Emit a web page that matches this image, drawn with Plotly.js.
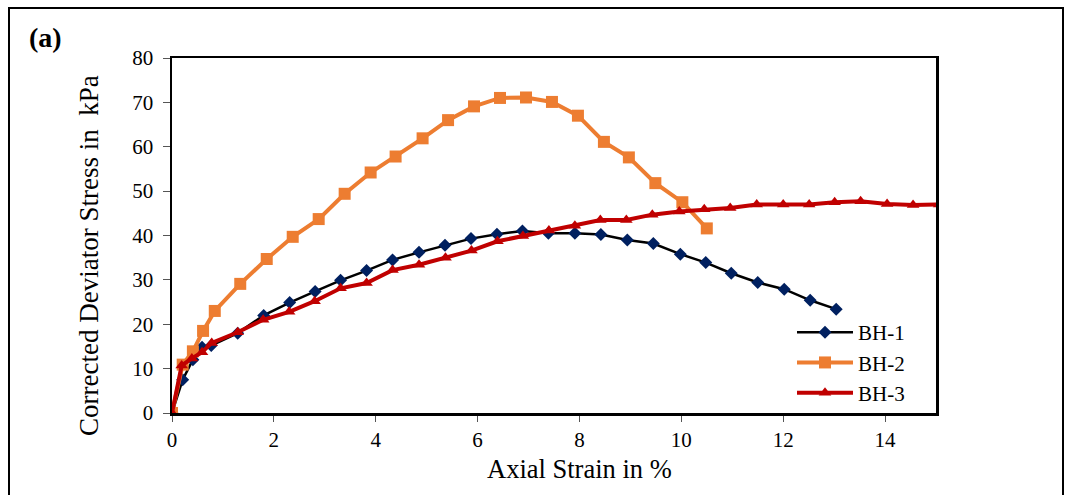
<!DOCTYPE html>
<html>
<head>
<meta charset="utf-8">
<script src="https://cdn.plot.ly/plotly-3.0.1.min.js"></script>
<style>html,body{margin:0;padding:0;background:#fff;}#chart{width:1077px;height:495px;}</style>
</head>
<body>
<div id="chart"></div>
<script>
const bh1Strain = [0, 0.21, 0.41, 0.59, 0.77, 1.29, 1.80, 2.31, 2.81, 3.31, 3.82, 4.33, 4.85, 5.36, 5.87, 6.38, 6.88, 7.39, 7.91, 8.42, 8.94, 9.45, 9.98, 10.48, 10.98, 11.5, 12.02, 12.53, 13.04];
const bh1Stress = [0, 7.5, 12.0, 14.8, 15.2, 18.0, 22.0, 24.9, 27.4, 29.9, 32.1, 34.5, 36.2, 37.8, 39.3, 40.3, 41.0, 40.5, 40.5, 40.2, 39.0, 38.2, 35.8, 33.9, 31.5, 29.4, 27.9, 25.4, 23.4];

const bh2Strain = [0, 0.21, 0.41, 0.61, 0.84, 1.34, 1.86, 2.37, 2.88, 3.39, 3.90, 4.39, 4.92, 5.42, 5.93, 6.44, 6.95, 7.46, 7.97, 8.48, 8.97, 9.49, 10.02, 10.50];
const bh2Stress = [0, 10.9, 13.9, 18.5, 23.0, 29.1, 34.7, 39.7, 43.7, 49.4, 54.2, 57.8, 61.9, 66.0, 69.1, 71.0, 71.1, 70.1, 67.0, 61.1, 57.6, 51.8, 47.5, 41.6];

const bh3Strain = [0, 0.19, 0.39, 0.59, 0.78, 1.29, 1.79, 2.30, 2.80, 3.31, 3.82, 4.33, 4.85, 5.37, 5.88, 6.39, 6.89, 7.40, 7.91, 8.41, 8.92, 9.43, 9.96, 10.45, 10.96, 11.48, 12.0, 12.51, 13.01, 13.52, 14.04, 14.55, 15.06];
const bh3Stress = [0, 10.7, 12.3, 13.7, 15.8, 18.2, 21.0, 22.8, 25.2, 28.1, 29.3, 32.2, 33.4, 35.0, 36.6, 38.7, 39.9, 41.1, 42.2, 43.5, 43.5, 44.7, 45.4, 45.9, 46.2, 47.0, 47.0, 47.0, 47.5, 47.7, 47.1, 46.9, 47.0];

const seriesNames = ["BH-1", "BH-2", "BH-3"];
const xTickVals = [0, 2, 4, 6, 8, 10, 12, 14];
const yTickVals = [0, 10, 20, 30, 40, 50, 60, 70, 80];
const xTitle = "Axial Strain in %";
const yTitle = "Corrected Deviator Stress in  kPa";

const font = "'Liberation Serif', 'Times New Roman', serif";

const traces = [
  {x: bh1Strain, y: bh1Stress, name: seriesNames[0], mode: "lines+markers",
   line: {color: "#000000", width: 2.5},
   marker: {symbol: "diamond", size: 10, color: "#002060"}},
  {x: bh2Strain, y: bh2Stress, name: seriesNames[1], mode: "lines+markers",
   line: {color: "#ED7D31", width: 4},
   marker: {symbol: "square", size: 12, color: "#ED7D31"}},
  {x: bh3Strain, y: bh3Stress, name: seriesNames[2], mode: "lines+markers",
   line: {color: "#C00000", width: 4},
   marker: {symbol: "triangle-up", size: 11, color: "#C00000"}}
];

const L = 172, R = 936, T = 58, B = 413;
const px = v => (v - L) / (R - L);
const py = v => (B - v) / (B - T);

const layout = {
  width: 1077, height: 495,
  margin: {l: L, r: 1077 - R, t: T, b: 495 - B, pad: 0},
  paper_bgcolor: "#ffffff", plot_bgcolor: "#ffffff",
  font: {family: font, size: 21, color: "#000"},
  showlegend: true,
  legend: {x: px(792), y: py(312), xanchor: "left", yanchor: "top",
           font: {family: font, size: 21, color: "#000"},
           bgcolor: "rgba(0,0,0,0)", tracegroupgap: 0, itemwidth: 56},
  xaxis: {range: [0, 15], tickvals: xTickVals, ticks: "outside", ticklen: 6, tickcolor: "#555",
          showgrid: false, zeroline: false, showline: true, linecolor: "#000", linewidth: 2.5, mirror: true,
          tickfont: {family: font, size: 21}, fixedrange: true},
  yaxis: {range: [0, 80], tickvals: yTickVals, ticks: "outside", ticklen: 7, tickcolor: "#555",
          ticklabelstandoff: 5,
          showgrid: false, zeroline: false, showline: true, linecolor: "#000", linewidth: 2.5, mirror: true,
          tickfont: {family: font, size: 21}, fixedrange: true},
  shapes: [
    {type: "rect", xref: "paper", yref: "paper", x0: px(9), x1: px(1063), y0: py(520), y1: py(8),
     line: {color: "#000", width: 2}, fillcolor: "rgba(0,0,0,0)", layer: "below"}
  ],
  annotations: [
    {text: "<b>(a)</b>", xref: "paper", yref: "paper", x: px(27), y: py(37), xanchor: "left", yanchor: "middle",
     showarrow: false, font: {family: font, size: 28, color: "#000"}},
    {text: yTitle, xref: "paper", yref: "paper", x: px(89), y: py(256), xanchor: "center", yanchor: "middle",
     textangle: -90, showarrow: false, font: {family: font, size: 27, color: "#000"}},
    {text: xTitle, xref: "paper", yref: "paper", x: px(579), y: py(469), xanchor: "center", yanchor: "middle",
     showarrow: false, font: {family: font, size: 26.5, color: "#000"}}
  ]
};

Plotly.newPlot("chart", traces, layout, {displayModeBar: false, staticPlot: true});
</script>
</body>
</html>
